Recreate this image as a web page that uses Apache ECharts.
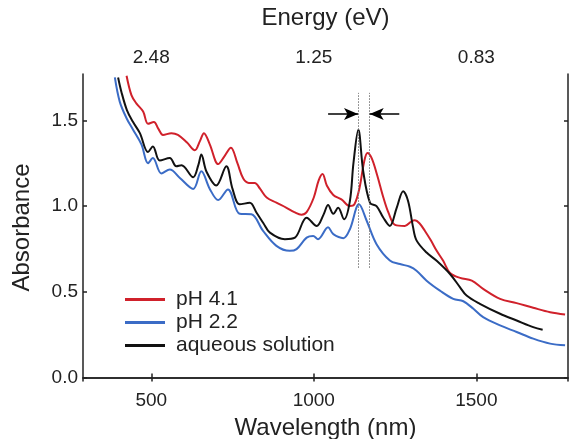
<!DOCTYPE html>
<html>
<head>
<meta charset="utf-8">
<script src="https://cdn.jsdelivr.net/npm/echarts@6/dist/echarts.min.js"></script>
<style>
  html, body { margin: 0; padding: 0; background: #fff; }
  #chart { width: 570px; height: 439px; }
</style>
</head>
<body>
<div id="chart"></div>
<script>
// wavelength (nm), absorbance
var ph41 = [
  [424, 1.76], [439, 1.647], [454, 1.599], [475, 1.551], [490, 1.48], [508, 1.49],
  [522, 1.45], [536, 1.415], [562, 1.425], [582, 1.415], [610, 1.37], [634, 1.325],
  [650, 1.38], [662, 1.425], [680, 1.36], [706, 1.245], [725, 1.29], [745, 1.34],
  [765, 1.25], [783, 1.16], [800, 1.135], [818, 1.135], [835, 1.1], [855, 1.05],
  [885, 1.02], [916, 0.99], [940, 0.965], [962, 0.95], [978, 0.965], [1000, 1.05],
  [1015, 1.15], [1027, 1.187], [1040, 1.12], [1060, 1.065], [1085, 1.039], [1111, 1.0],
  [1125, 1.01], [1140, 1.1], [1155, 1.26], [1165, 1.31], [1178, 1.28], [1195, 1.18],
  [1214, 1.05], [1230, 0.96], [1250, 0.89], [1280, 0.884], [1300, 0.91], [1311, 0.917],
  [1325, 0.9], [1342, 0.855], [1360, 0.8], [1378, 0.739], [1398, 0.681], [1419, 0.61],
  [1450, 0.581], [1486, 0.565], [1521, 0.517], [1573, 0.459], [1624, 0.434],
  [1675, 0.407], [1727, 0.381], [1773, 0.368]
];
var ph22 = [
  [388, 1.75], [403, 1.609], [424, 1.512], [444, 1.445], [470, 1.358], [490, 1.25],
  [505, 1.28], [531, 1.19], [557, 1.213], [588, 1.164], [629, 1.1], [654, 1.203],
  [680, 1.1], [706, 1.035], [736, 1.097], [772, 0.955], [808, 0.952], [844, 0.855],
  [885, 0.768], [926, 0.739], [947, 0.749], [978, 0.816], [998, 0.826], [1013, 0.807],
  [1044, 0.876], [1060, 0.836], [1091, 0.813], [1111, 0.865], [1139, 1.01], [1163, 0.913],
  [1193, 0.778], [1234, 0.683], [1265, 0.662], [1296, 0.646], [1316, 0.623], [1347, 0.565],
  [1388, 0.507], [1429, 0.459], [1460, 0.445], [1491, 0.401], [1521, 0.352], [1573, 0.304],
  [1624, 0.266], [1675, 0.227], [1727, 0.198], [1773, 0.188]
];
var aqueous = [
  [398, 1.75], [408, 1.667], [425, 1.56], [444, 1.49], [465, 1.425], [490, 1.315],
  [505, 1.348], [526, 1.265], [557, 1.28], [577, 1.232], [593, 1.238], [629, 1.168],
  [645, 1.24], [654, 1.3], [670, 1.2], [700, 1.12], [731, 1.232], [750, 1.1],
  [772, 1.01], [803, 1.019], [824, 0.961], [845, 0.9], [865, 0.845], [911, 0.807],
  [942, 0.816], [978, 0.932], [1009, 0.884], [1030, 0.95], [1044, 1.006], [1060, 0.955],
  [1075, 0.99], [1093, 0.923], [1111, 1.029], [1122, 1.25], [1137, 1.445], [1152, 1.203],
  [1173, 1.019], [1193, 1.0], [1214, 0.932], [1234, 0.884], [1255, 0.99], [1275, 1.087],
  [1290, 1.03], [1305, 0.88], [1316, 0.8], [1347, 0.729], [1378, 0.681], [1419, 0.604],
  [1450, 0.526], [1470, 0.478], [1511, 0.43], [1573, 0.372], [1624, 0.333], [1675, 0.294],
  [1704, 0.279]
];

var seriesNames = ['pH 4.1', 'pH 2.2', 'aqueous solution'];
var seriesColors = ['#d0212b', '#3b6cc6', '#111111'];

var bottomTicks = [500, 1000, 1500];
var topTickLabels = ['2.48', '1.25', '0.83'];
var yTicks = [0, 0.5, 1.0, 1.5];

// peak markers: dotted guides and arrows
var guideLines = [1138, 1170];
var guideRange = [0.64, 1.66];
var arrows = [[1044, 1136], [1263, 1172]];
var arrowLevel = 1.537;

var font = "'Liberation Sans', Arial, sans-serif";
var chart = echarts.init(document.getElementById('chart'));

var markData = [];
guideLines.forEach(function (x) {
  markData.push([
    { coord: [x, guideRange[0]], symbol: 'none', lineStyle: { color: '#777', type: [1.5, 1.5], width: 1 } },
    { coord: [x, guideRange[1]], symbol: 'none' }
  ]);
});
arrows.forEach(function (a) {
  markData.push([
    { coord: [a[0], arrowLevel], symbol: 'none', lineStyle: { color: '#000', type: 'solid', width: 1.5 } },
    { coord: [a[1], arrowLevel], symbol: 'arrow', symbolSize: [9, 14] }
  ]);
});

var axisLine = { show: true, lineStyle: { color: '#222', width: 1.5 } };
var tickStyle = { show: true, inside: true, length: 4, lineStyle: { color: '#222', width: 1.5 } };

chart.setOption({
  animation: false,
  backgroundColor: '#fff',
  textStyle: { fontFamily: font },
  grid: { left: 83, right: 2, top: 74, bottom: 58, containLabel: false, outerBoundsMode: 'none' },
  legend: {
    left: 120, top: 284, orient: 'vertical',
    itemWidth: 40, itemHeight: 3, itemGap: 2,
    icon: 'rect',
    textStyle: { fontSize: 21, color: '#222', fontFamily: font, padding: [0, 0, 0, 6] },
    data: seriesNames
  },
  xAxis: [{
    type: 'value', position: 'bottom', min: 290, max: 1782,
    name: 'Wavelength (nm)', nameLocation: 'middle', nameGap: 35,
    nameTextStyle: { fontSize: 24, color: '#222', fontFamily: font },
    axisLine: axisLine,
    axisTick: Object.assign({ customValues: bottomTicks }, tickStyle),
    axisLabel: { customValues: bottomTicks, fontSize: 19, color: '#222', margin: 10, fontFamily: font,
      formatter: function (v) { return String(v); } },
    splitLine: { show: false }
  }, {
    type: 'value', position: 'top', min: 290, max: 1782,
    name: 'Energy (eV)', nameLocation: 'middle', nameGap: 44,
    nameTextStyle: { fontSize: 24, color: '#222', fontFamily: font },
    axisLine: axisLine,
    axisTick: Object.assign({ customValues: bottomTicks }, tickStyle),
    axisLabel: {
      customValues: bottomTicks, fontSize: 19, color: '#222', margin: 7, fontFamily: font,
      formatter: function (v) { return topTickLabels[bottomTicks.indexOf(v)]; }
    },
    splitLine: { show: false }
  }],
  yAxis: [{
    type: 'value', position: 'left', min: -0.02, max: 1.77,
    name: 'Absorbance', nameLocation: 'middle', nameGap: 49,
    nameTextStyle: { fontSize: 24, color: '#222', fontFamily: font },
    axisLine: axisLine,
    axisTick: Object.assign({ customValues: yTicks }, tickStyle),
    axisLabel: {
      customValues: yTicks, fontSize: 19, color: '#222', margin: 5, fontFamily: font,
      formatter: function (v) { return v.toFixed(1); }
    },
    splitLine: { show: false }
  }, {
    type: 'value', position: 'right', min: -0.02, max: 1.77,
    axisLine: axisLine,
    axisTick: Object.assign({ customValues: yTicks }, tickStyle),
    axisLabel: { show: false },
    splitLine: { show: false }
  }],
  series: [
    { name: seriesNames[0], data: ph41 },
    { name: seriesNames[1], data: ph22 },
    { name: seriesNames[2], data: aqueous }
  ].map(function (s, i) {
    return {
      name: s.name, type: 'line', data: s.data, smooth: 0.35,
      showSymbol: false, color: seriesColors[i],
      lineStyle: { width: 2, color: seriesColors[i] }, z: 3 + (i === 2 ? 1 : 0)
    };
  }).concat([{
    type: 'line', data: [], silent: true,
    markLine: { silent: true, animation: false, label: { show: false }, data: markData }
  }])
});
</script>
</body>
</html>
